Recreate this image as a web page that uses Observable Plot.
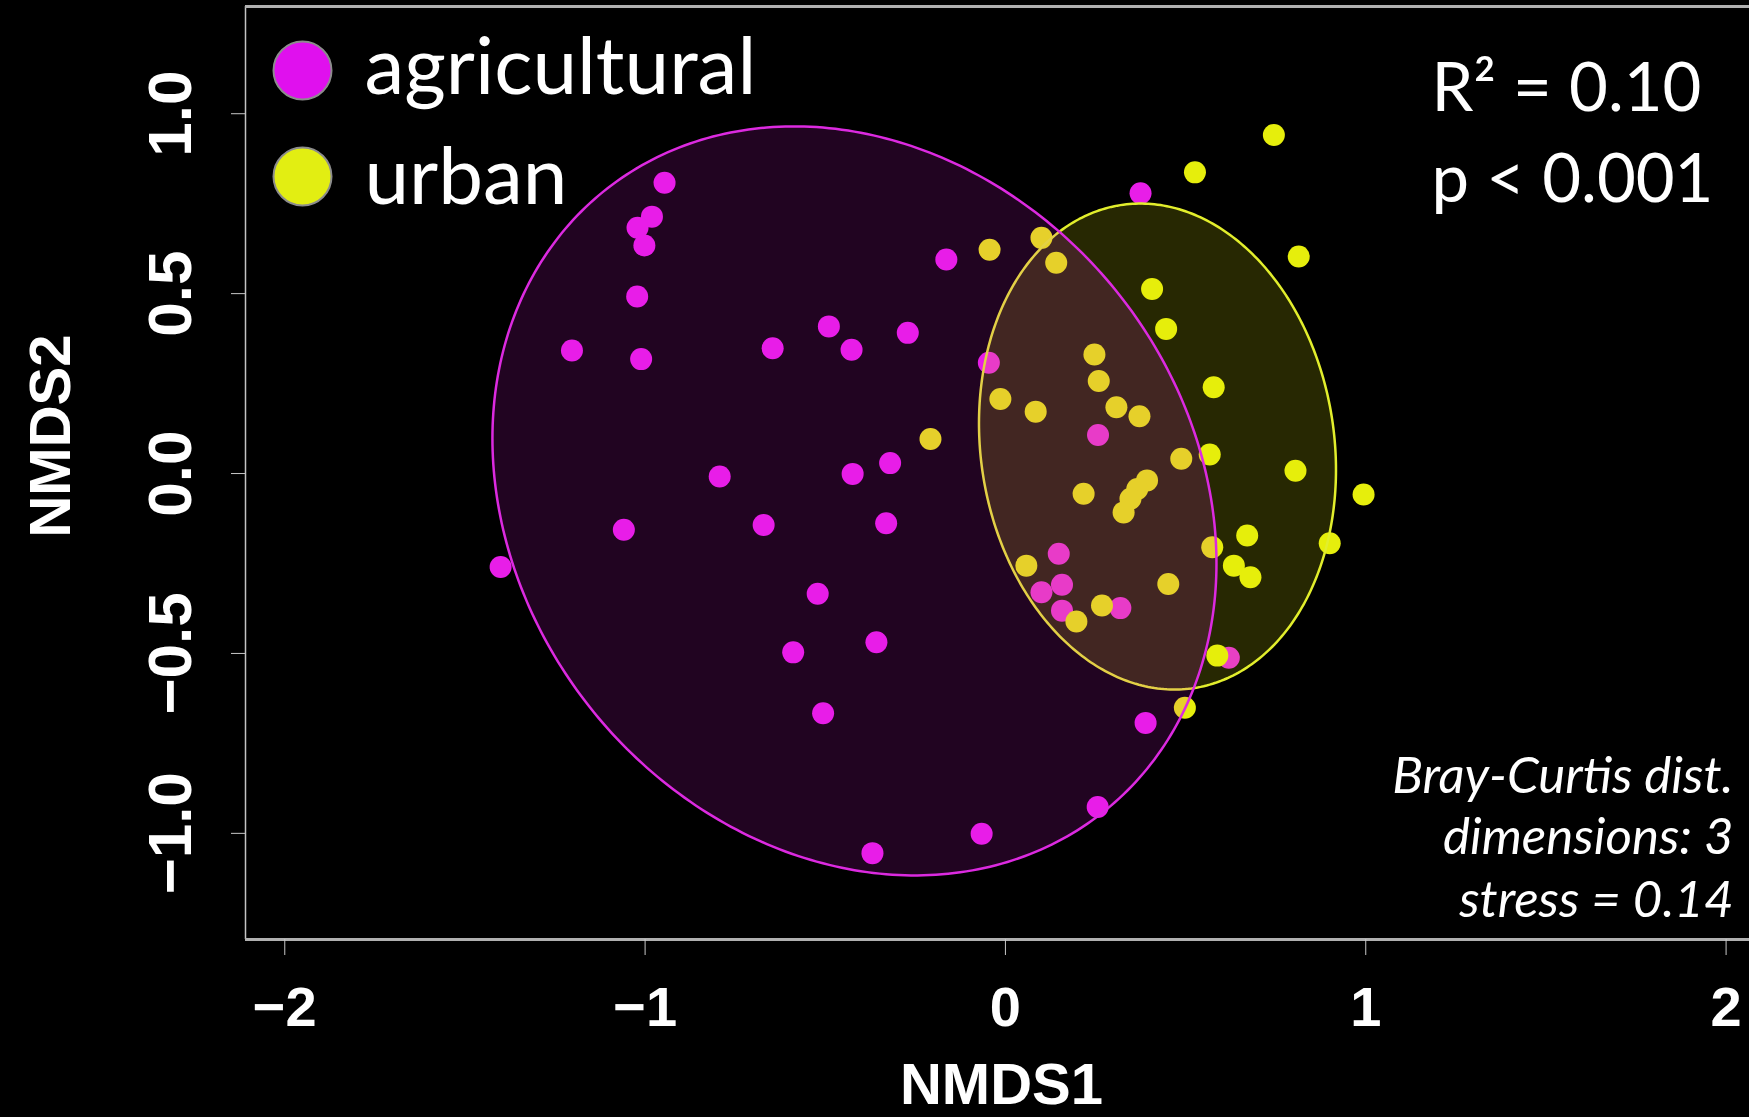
<!DOCTYPE html>
<html>
<head>
<meta charset="utf-8">
<script src="https://cdn.jsdelivr.net/npm/d3@7"></script>
<script src="https://cdn.jsdelivr.net/npm/@observablehq/plot@0.6"></script>
<style>
  html, body { margin: 0; padding: 0; background: #000; }
  #chart svg { display: block; }
</style>
</head>
<body>
<div id="chart"></div>
<script>
// ---- data (NMDS scores) ----
const groups = ["agricultural", "urban"];

const agriculturalX = [-0.946, -0.981, -1.021, -1.002, -1.022, -1.203, -1.011, -0.646, -0.490, -0.427, -0.271, -0.164, 0.375, -0.046, -0.793, -0.424, -0.320, -1.059, -0.671, -0.331, -1.401, -0.521, -0.589, -0.358, -0.506, -0.369, -0.066, 0.256, 0.389, 0.257, 0.148, 0.100, 0.157, 0.157, 0.319, 0.620];
const agriculturalY = [0.808, 0.714, 0.683, 0.634, 0.492, 0.342, 0.318, 0.348, 0.409, 0.344, 0.391, 0.595, 0.779, 0.308, -0.008, -0.001, 0.029, -0.156, -0.143, -0.138, -0.260, -0.334, -0.497, -0.469, -0.666, -1.055, -1.001, -0.927, -0.693, 0.107, -0.223, -0.330, -0.309, -0.381, -0.374, -0.512];

const urbanX = [0.745, 0.526, 0.100, -0.044, 0.141, 0.814, 0.407, 0.446, 0.247, 0.259, 0.578, -0.014, 0.084, 0.308, 0.372, -0.208, 0.488, 0.567, 0.805, 0.994, 0.393, 0.366, 0.347, 0.328, 0.217, 0.058, 0.197, 0.268, 0.452, 0.574, 0.671, 0.634, 0.680, 0.900, 0.588, 0.498];
const urbanY = [0.941, 0.837, 0.655, 0.622, 0.586, 0.603, 0.513, 0.402, 0.331, 0.257, 0.240, 0.207, 0.172, 0.184, 0.159, 0.096, 0.041, 0.053, 0.008, -0.058, -0.019, -0.043, -0.070, -0.108, -0.056, -0.256, -0.411, -0.367, -0.307, -0.205, -0.172, -0.256, -0.288, -0.194, -0.506, -0.651];

// group ellipses (centre and covariance)
const ellipseCenterX = [-0.419, 0.422];
const ellipseCenterY = [-0.076, 0.075];
const ellipseVarX = [1.0094, 0.2454];
const ellipseVarY = [1.0834, 0.4561];
const ellipseCovXY = [-0.1743, -0.0319];

const xTicks = [-2, -1, 0, 1, 2];
const yTicks = [-1.0, -0.5, 0.0, 0.5, 1.0];
const xDomain = [-2.109, 2.065];
const yDomain = [-1.295, 1.298];

const statsLines = ["R\u00B2 = 0.10", "p < 0.001"];
const noteLines = ["Bray-Curtis dist.", "dimensions: 3", "stress = 0.14"];
const axisTitles = ["NMDS1", "NMDS2"];

// ---- build tables ----
const agri = agriculturalX.map((x, i) => ({x, y: agriculturalY[i], group: groups[0]}));
const urban = urbanX.map((x, i) => ({x, y: urbanY[i], group: groups[1]}));

function ellipseOutline(k) {
  const l11 = Math.sqrt(ellipseVarX[k]);
  const l21 = ellipseCovXY[k] / l11;
  const l22 = Math.sqrt(ellipseVarY[k] - l21 * l21);
  const pts = [];
  for (let i = 0; i <= 360; i++) {
    const t = (i / 360) * 2 * Math.PI;
    pts.push({
      x: ellipseCenterX[k] + l11 * Math.cos(t),
      y: ellipseCenterY[k] + l21 * Math.cos(t) + l22 * Math.sin(t)
    });
  }
  return pts;
}
const agriEllipse = ellipseOutline(0);
const urbanEllipse = ellipseOutline(1);

const MAG = "#e81ee8";
const YEL = "#e6ee0c";
const axisFont = "'Liberation Sans', Arial, sans-serif";
const noteFont = "Lato, 'Open Sans', sans-serif";

const chart = Plot.plot({
  width: 1749,
  height: 1117,
  marginLeft: 245,
  marginRight: 0,
  marginTop: 6,
  marginBottom: 178,
  x: {domain: xDomain},
  y: {domain: yDomain},
  style: {background: "#000", color: "#fff", fontFamily: axisFont},
  marks: [
    // frame (left, top, bottom)
    Plot.ruleX([xDomain[0]], {stroke: "#c4c4c4", strokeWidth: 1.5}),
    Plot.ruleY([yDomain[1]], {stroke: "#b0b0b0", strokeWidth: 3}),
    Plot.ruleY([yDomain[0]], {stroke: "#b0b0b0", strokeWidth: 3}),
    // points
    Plot.dot(agri, {x: "x", y: "y", r: 11, fill: MAG, stroke: "none"}),
    Plot.dot(urban, {x: "x", y: "y", r: 11, fill: YEL, stroke: "none"}),
    // ellipses (translucent, drawn over the points)
    Plot.line(urbanEllipse, {x: "x", y: "y", fill: YEL, fillOpacity: 0.17, stroke: "#e2ee2c", strokeWidth: 2.5, curve: "linear"}),
    Plot.line(agriEllipse, {x: "x", y: "y", fill: MAG, fillOpacity: 0.14, stroke: "#dc2ae0", strokeWidth: 2.5, curve: "linear"}),
    // axes
    Plot.axisX({ticks: xTicks, tickSize: 16, tickPadding: 31, tickFormat: d3.format("d"), label: null,
      stroke: "#c8c8c8", fontSize: 56, fontWeight: "bold", fontFamily: axisFont}),
    Plot.axisY({ticks: yTicks, tickSize: 14, tickPadding: 41, tickRotate: -90, tickFormat: d3.format(".1f"), label: null,
      stroke: "#c8c8c8", fontSize: 62, fontWeight: "bold", fontFamily: axisFont}),
    // axis titles
    Plot.text([axisTitles[0]], {text: d => d, frameAnchor: "bottom", dx: 4, dy: 164, lineAnchor: "bottom", textAnchor: "middle",
      fontSize: 58, fontWeight: "bold", fontFamily: axisFont, fill: "#fff"}),
    Plot.text([axisTitles[1]], {text: d => d, frameAnchor: "left", rotate: -90, dx: -176, dy: -37, lineAnchor: "bottom", textAnchor: "middle",
      fontSize: 58, fontWeight: "bold", fontFamily: axisFont, fill: "#fff"}),
    // legend
    Plot.dot([groups[0]], {frameAnchor: "top-left", dx: 57, dy: 64, r: 29, fill: "#e010ee", stroke: "#8c8c8c", strokeWidth: 2}),
    Plot.dot([groups[1]], {frameAnchor: "top-left", dx: 57, dy: 170, r: 29, fill: "#e2ee12", stroke: "#8c8c8c", strokeWidth: 2}),
    Plot.text([groups[0]], {text: d => d, frameAnchor: "top-left", dx: 119, dy: 87, lineAnchor: "bottom", textAnchor: "start",
      fontSize: 80, fontFamily: noteFont, fill: "#fff"}),
    Plot.text([groups[1]], {text: d => d, frameAnchor: "top-left", dx: 119, dy: 197, lineAnchor: "bottom", textAnchor: "start",
      fontSize: 80, fontFamily: noteFont, fill: "#fff"}),
    // statistics
    Plot.text([statsLines[0]], {text: d => d, frameAnchor: "top-left", dx: 1186, dy: 104, lineAnchor: "bottom", textAnchor: "start",
      fontSize: 67, fontFamily: noteFont, fill: "#fff"}),
    Plot.text([statsLines[1]], {text: d => d, frameAnchor: "top-left", dx: 1186, dy: 195, lineAnchor: "bottom", textAnchor: "start",
      fontSize: 67, fontFamily: noteFont, fill: "#fff"}),
    // ordination notes
    Plot.text([noteLines[0]], {text: d => d, frameAnchor: "bottom-right", dx: -16, dy: -147, lineAnchor: "bottom", textAnchor: "end",
      fontSize: 51, fontStyle: "italic", fontFamily: noteFont, fill: "#fff"}),
    Plot.text([noteLines[1]], {text: d => d, frameAnchor: "bottom-right", dx: -16, dy: -86, lineAnchor: "bottom", textAnchor: "end",
      fontSize: 51, fontStyle: "italic", fontFamily: noteFont, fill: "#fff"}),
    Plot.text([noteLines[2]], {text: d => d, frameAnchor: "bottom-right", dx: -16, dy: -23, lineAnchor: "bottom", textAnchor: "end",
      fontSize: 51, fontStyle: "italic", fontFamily: noteFont, fill: "#fff"})
  ]
});

document.getElementById("chart").appendChild(chart);
</script>
</body>
</html>
